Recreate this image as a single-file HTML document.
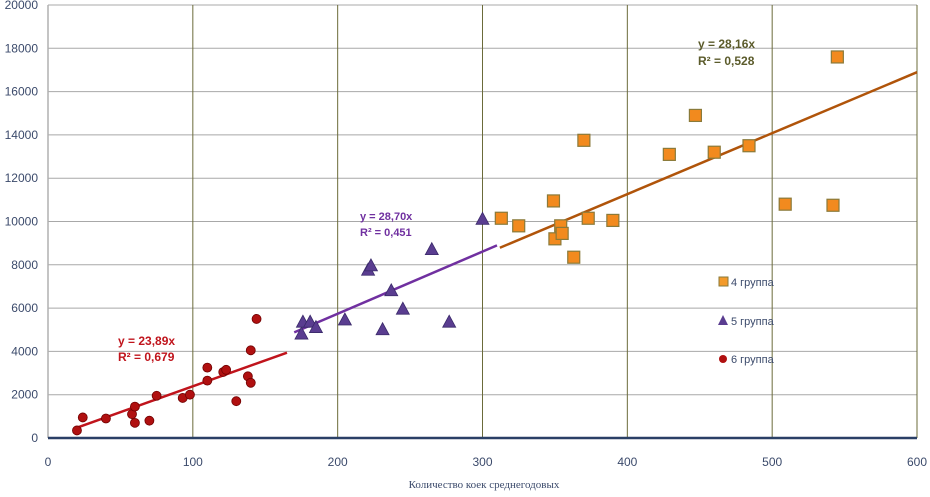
<!DOCTYPE html>
<html><head><meta charset="utf-8"><style>
body{margin:0;background:#fff;}
svg text{font-family:"Liberation Sans",sans-serif;}
</style></head><body>
<svg width="930" height="492" xmlns="http://www.w3.org/2000/svg">
<g id="grid"></g>
<g id="axes"></g>
<g id="lines"></g>
<g id="marks"></g>
<text x="118" y="345" fill="#c0141c" font-weight="bold" font-size="12">y = 23,89x</text>
<text x="118" y="361" fill="#c0141c" font-weight="bold" font-size="12">R² = 0,679</text>
<text x="360" y="220" fill="#7030a0" font-weight="bold" font-size="11">y = 28,70x</text>
<text x="360" y="236" fill="#7030a0" font-weight="bold" font-size="11">R² = 0,451</text>
<text x="698" y="48" fill="#5b5b2b" font-weight="bold" font-size="12">y = 28,16x</text>
<text x="698" y="65" fill="#5b5b2b" font-weight="bold" font-size="12">R² = 0,528</text>
<g>
<rect x="719" y="277" width="9" height="9" fill="#f39a2a" stroke="#8a7a3a"/>
<text x="731" y="286" font-size="11" fill="#3b4a6b">4 группа</text>
<polygon points="723,315 728,325 718,325" fill="#5a3d90"/>
<text x="731" y="325" font-size="11" fill="#3b4a6b">5 группа</text>
<circle cx="723" cy="359" r="4" fill="#b01010"/>
<text x="731" y="363" font-size="11" fill="#3b4a6b">6 группа</text>
</g>
<text x="484" y="488" text-anchor="middle" font-size="11" fill="#3b4a6b" style="font-family:'Liberation Serif',serif">Количество коек среднегодовых</text>
</svg>
<script>
const xTicks=[0,100,200,300,400,500,600];
const yTicks=[0,2000,4000,6000,8000,10000,12000,14000,16000,18000,20000];
const redX=[20,24,40,58,60,60,70,75,93,98,110,110,121,123,130,138,140,140,144];
const redY=[350,950,900,1100,1450,700,800,1950,1850,2000,3250,2650,3050,3150,1700,2850,2550,4050,5500];
const purX=[175,176,181,185,205,221,223,231,237,245,265,277,300];
const purY=[4800,5350,5350,5100,5450,7750,7950,5000,6800,5950,8700,5350,10100];
const orX=[313,325,349,350,354,355,363,370,373,390,429,447,460,484,509,542,545];
const orY=[10150,9800,10950,9200,9800,9450,8350,13750,10150,10050,13100,14900,13200,13500,10800,10750,17600];
const slopes=[23.89,28.70,28.16];
const ranges=[[20,165],[170,310],[312,600]];
const NS='http://www.w3.org/2000/svg';
const X=v=>48+v*869/600, Y=v=>438-v*433/20000;
function mk(p,t,a){const e=document.createElementNS(NS,t);for(const k in a)e.setAttribute(k,a[k]);document.getElementById(p).appendChild(e);return e;}
yTicks.forEach(v=>{
 if(v>0){const l=mk('grid','line',{x1:48,x2:917,y1:Y(v),y2:Y(v),stroke:'#a8a8a8','stroke-width':1});
 
 }
 const t=mk('axes','text',{x:38,y:Y(v)+4,'text-anchor':'end','font-size':12,fill:'#3b4a6b'});t.textContent=v;
 
 
});
xTicks.forEach(v=>{
 if(v>0){const l=mk('grid','line',{x1:X(v),x2:X(v),y1:5,y2:438,stroke:'#6b6b3a','stroke-width':1});
 
 }
 const t=mk('axes','text',{x:X(v),y:466,'text-anchor':'middle','font-size':12,fill:'#3b4a6b'});t.textContent=v;
 
 
});
let a=mk('axes','line',{x1:48,x2:48,y1:5,y2:438,stroke:'#b0b0b0','stroke-width':1.5});


a=mk('axes','line',{x1:48,x2:917,y1:438,y2:438,stroke:'#2a3f66','stroke-width':2.5});


const cols=['#c0141c','#7030a0','#b0540a'];
slopes.forEach((s,i)=>{const r=ranges[i];
 const l=mk('lines','line',{x1:X(r[0]),y1:Y(r[0]*s),x2:X(r[1]),y2:Y(r[1]*s),stroke:cols[i],'stroke-width':2.5});
 
 
});
orX.forEach((x,i)=>{const cx=X(x),cy=Y(orY[i]);
 const e=mk('marks','rect',{x:cx-6,y:cy-6,width:12,height:12,fill:'#f28a1e',stroke:'#8a7a3a','stroke-width':1.2});
 
 
});
purX.forEach((x,i)=>{const cx=X(x),cy=Y(purY[i]);
 const e=mk('marks','polygon',{points:`${cx},${cy-7} ${cx+6.5},${cy+5} ${cx-6.5},${cy+5}`,fill:'#5a3d90',stroke:'#3a2a6a','stroke-width':0.8});
 
 
});
redX.forEach((x,i)=>{
 const e=mk('marks','circle',{cx:X(x),cy:Y(redY[i]),r:4.5,fill:'#b01010',stroke:'#700000','stroke-width':0.8});
 
 
});
</script>
</body></html>
